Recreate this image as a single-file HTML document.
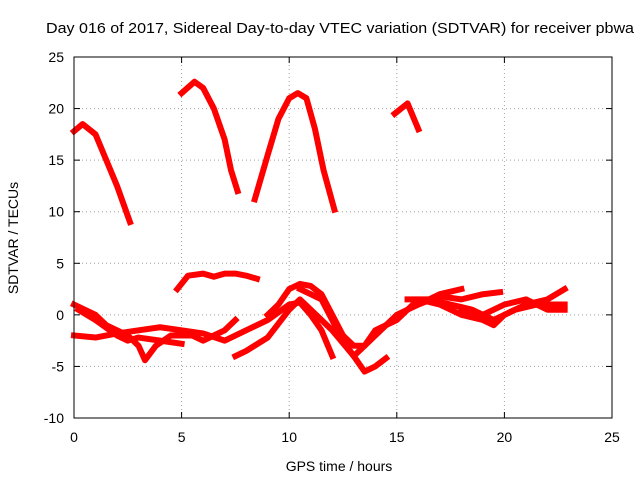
<!DOCTYPE html>
<html><head><meta charset="utf-8"><style>
body{margin:0;background:#fff;}
svg{display:block;font-family:"Liberation Sans",sans-serif;}
</style></head><body>
<svg id="chart" width="640" height="480">
<text x="46" y="33" textLength="588" lengthAdjust="spacingAndGlyphs" font-size="15">Day 016 of 2017, Sidereal Day-to-day VTEC variation (SDTVAR) for receiver pbwa</text>
<text x="339" y="471" text-anchor="middle" font-size="14">GPS time / hours</text>
<text transform="translate(18,238) rotate(-90)" text-anchor="middle" font-size="14">SDTVAR / TECUs</text>
<g id="grid"></g><g id="series"></g><g id="axes"></g>
</svg>
<script>
const xTicks=[0,5,10,15,20,25];
const yTicks=[-10,-5,0,5,10,15,20,25];
const track1=[[0,17.8],[0.4,18.5],[1,17.5],[1.5,15],[2,12.5],[2.6,9]];
const track2=[[5,21.5],[5.6,22.6],[6,22],[6.5,20],[7,17],[7.3,14],[7.6,12]];
const track3=[[8.4,11.2],[9,15.5],[9.5,19],[10,21],[10.4,21.5],[10.8,21],[11.2,18],[11.6,14],[12.1,10.2]];
const track4=[[14.9,19.5],[15.5,20.5],[16,18]];
const track5=[[4.8,2.5],[5.3,3.8],[6,4],[6.5,3.7],[7,4],[7.5,4],[8,3.8],[8.5,3.5]];
const track6=[[0,1],[0.5,0.5],[1,0],[1.5,-1],[2,-1.5],[2.5,-2],[3,-3],[3.3,-4.4],[3.8,-3],[4.5,-2],[5.5,-2],[6,-2.5],[6.5,-2],[7,-1.5],[7.5,-0.5]];
const track7=[[0,-2],[1,-2.2],[2,-1.8],[3,-1.5],[4,-1.2],[5,-1.5],[6,-1.8],[7,-2.5],[8,-1.5],[9,-0.5],[10,1],[10.5,1.2],[11,0],[11.5,-1.5],[12,-4]];
const track8=[[0.2,0.5],[1,-0.5],[2,-2],[2.5,-2.5],[3,-2.2],[4,-2.5],[5,-2.8]];
const track9=[[7.5,-4],[8,-3.5],[9,-2.2],[10,0.5],[10.5,1.5],[11,0.5],[12,-1.5],[13,-4],[13.5,-5.5],[14,-5],[14.5,-4.2]];
const track10=[[9,0],[9.5,1],[10,2.5],[10.5,3],[11,2.8],[11.5,2],[12,0],[12.5,-2],[13,-3],[13.5,-3],[14,-2],[14.5,-1],[15,0],[16,1],[17,2],[18,2.5]];
const track11=[[10.5,2.5],[11,2],[11.5,1.5],[12,-0.5],[12.5,-2.5],[13,-4],[13.5,-3],[14,-1.5],[15,-0.5],[16,1.5],[17,1],[18,0],[19,-0.5],[19.5,-1],[20,0],[21,1],[22,1.5],[22.8,2.5]];
const track12=[[15.5,1.5],[16.5,1.5],[17.5,1],[18.5,0.5],[19.5,-0.5],[20.5,0.5],[21.5,1],[22.8,1]];
const track13=[[16,1],[17,1.8],[18,1.5],[19,2],[19.8,2.2]];
const track14=[[18,0.5],[19,0],[19.5,0.5],[20,1],[21,1.5],[22,0.5],[22.8,0.5]];
const tracks=[track1,track2,track3,track4,track5,track6,track7,track8,track9,track10,track11,track12,track13,track14];
const X0=74,X1=612,Y0=418,Y1=57;
const xs=v=>X0+(v-0)/25*(X1-X0);
const ys=v=>Y0-(v+10)/35*(Y0-Y1);
const NS='http://www.w3.org/2000/svg';
function mk(t,a,p){const e=document.createElementNS(NS,t);for(const k in a)e.setAttribute(k,a[k]);p.appendChild(e);return e;}
const grid=document.getElementById('grid'),axes=document.getElementById('axes'),ser=document.getElementById('series');
xTicks.forEach(t=>{const x=xs(t);
 if(t>0&&t<25){const g=mk('line',{x1:x,x2:x,y1:Y0,y2:Y1,stroke:'#a0a0a0','stroke-dasharray':'1,3'},grid);
 
 }
 mk('line',{x1:x,x2:x,y1:Y0,y2:Y0-6,stroke:'#000'},axes);
 mk('line',{x1:x,x2:x,y1:Y1,y2:Y1+6,stroke:'#000'},axes);
 const l=mk('text',{x:x,y:Y0+24,'text-anchor':'middle','font-size':'14'},axes);l.textContent=t;
 
 });
yTicks.forEach(t=>{const y=ys(t);
 if(t>-10&&t<25){const g=mk('line',{x1:X0,x2:X1,y1:y,y2:y,stroke:'#a0a0a0','stroke-dasharray':'1,3'},grid);
 
 }
 mk('line',{x1:X0,x2:X0+6,y1:y,y2:y,stroke:'#000'},axes);
 mk('line',{x1:X1,x2:X1-6,y1:y,y2:y,stroke:'#000'},axes);
 const l=mk('text',{x:X0-10,y:y+5,'text-anchor':'end','font-size':'14'},axes);l.textContent=t;
 
 });
const fr=mk('rect',{x:X0,y:Y1,width:X1-X0,height:Y0-Y1,fill:'none',stroke:'#000'},axes);


tracks.forEach((tr,i)=>{
 const p=mk('polyline',{points:tr.map(d=>xs(d[0])+','+ys(d[1])).join(' '),fill:'none',stroke:'#ff0000','stroke-width':'6','stroke-linejoin':'round','stroke-linecap':'square'},ser);
 
 
});
</script>
</body></html>
